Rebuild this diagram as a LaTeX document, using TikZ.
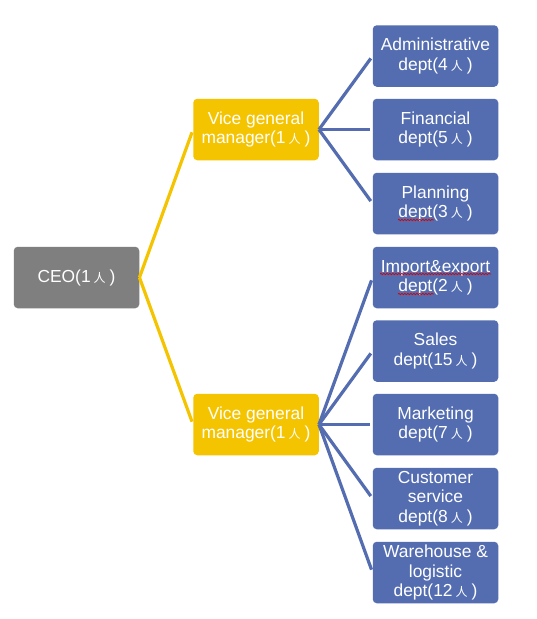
\documentclass[tikz,border=0pt]{standalone}
\usepackage{fontspec}
\usetikzlibrary{decorations.pathmorphing}
\setmainfont{Liberation Sans}
\newfontfamily\cjkf{Noto Sans CJK SC}
\newcommand{\ren}{\hspace{3pt}{\cjkf\fontsize{12}{12}\selectfont 人}\hspace{4pt}}
\definecolor{gy}{HTML}{7F7F7F}
\definecolor{ye}{HTML}{F5C400}
\definecolor{bl}{HTML}{546DB0}
\tikzset{x=1pt,y=-1pt,
 box/.style={rounded corners=4pt,minimum width=125.5pt,minimum height=61.5pt,inner sep=0pt,
   align=center,text=white,font=\fontsize{17.4}{19.4}\selectfont},
 ceobox/.style={box,fill=gy},
 vpbox/.style={box,fill=ye},
 deptbox/.style={box,fill=bl},
 ylink/.style={ye,line width=3.2pt,shorten >=3pt},
 blink/.style={bl,line width=3.2pt,shorten >=3pt},
 squig/.style={red!85!black,line width=0.7pt,decorate,decoration={snake,amplitude=0.7pt,segment length=3pt}}}
\begin{document}
\begin{tikzpicture}
\useasboundingbox (0,0) rectangle (536,619);
\fill[white] (0,0) rectangle (536,619);
\node[ceobox] (ceo) at (76.5,277.5) {CEO(1\ren)};
\node[vpbox] (vp1) at (256,129.5) {Vice general\\manager(1\ren)};
\node[vpbox] (vp2) at (256,424.5) {Vice general\\manager(1\ren)};
\node[deptbox] (d1) at (435.5,56) {Administrative\\dept(4\ren)};
\node[deptbox] (d2) at (435.5,129.5) {Financial\\dept(5\ren)};
\node[deptbox] (d3) at (435.5,203.5) {Planning\\dept(3\ren)};
\node[deptbox] (d4) at (435.5,277.5) {Import\&export\\dept(2\ren)};
\node[deptbox] (d5) at (435.5,351) {Sales\\dept(15\ren)};
\node[deptbox] (d6) at (435.5,424.5) {Marketing\\dept(7\ren)};
\node[deptbox] (d7) at (435.5,498.5) {Customer\\service\\dept(8\ren)};
\node[deptbox] (d8) at (435.5,572.5) {Warehouse \&\\logistic\\dept(12\ren)};
\foreach \v in {vp1,vp2} \draw[ylink] (ceo.east) -- (\v.west);
\foreach \d in {d1,d2,d3} \draw[blink] (vp1.east) -- (\d.west);
\foreach \d in {d4,d5,d6,d7,d8} \draw[blink] (vp2.east) -- (\d.west);
\draw[squig] (398,220) -- (434,220);
\draw[squig] (398,294) -- (434,294);
\draw[squig] (380,274) -- (491,274);
\end{tikzpicture}
\end{document}
